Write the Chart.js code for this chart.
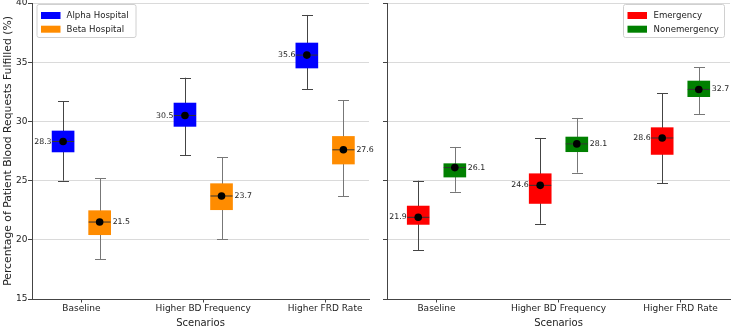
<!DOCTYPE html>
<html>
<head>
<meta charset="utf-8">
<script src="https://cdn.jsdelivr.net/npm/chart.js@4/dist/chart.umd.min.js"></script>
<style>
  html, body { margin: 0; padding: 0; background: #fff; }
  #wrap { position: relative; width: 733px; height: 331px; overflow: hidden; }
  canvas { position: absolute; top: 0; }
</style>
</head>
<body>
<div id="wrap">
  <canvas id="left" width="385" height="331" style="left:0"></canvas>
  <canvas id="right" width="361" height="331" style="left:372px"></canvas>
</div>
<script>
const categories = ['Baseline', 'Higher BD Frequency', 'Higher FRD Rate'];
const yTicks = [15, 20, 25, 30, 35, 40];
const yTitle = 'Percentage of Patient Blood Requests Fulfilled (%)';
const xTitle = 'Scenarios';

// Left panel: hospitals
const alphaLabel = 'Alpha Hospital';
const alphaMean = [28.3, 30.5, 35.6];
const alphaQ1 = [27.42, 29.58, 34.51];
const alphaQ3 = [29.19, 31.55, 36.62];
const alphaLow = [25.0, 27.16, 32.74];
const alphaHigh = [31.72, 33.69, 38.99];

const betaLabel = 'Beta Hospital';
const betaMean = [21.5, 23.7, 27.6];
const betaQ1 = [20.43, 22.54, 26.40];
const betaQ3 = [22.46, 24.74, 28.73];
const betaLow = [18.38, 20.07, 23.67];
const betaHigh = [25.19, 26.99, 31.77];

// Right panel: request type
const emergLabel = 'Emergency';
const emergMean = [21.9, 24.6, 28.6];
const emergQ1 = [21.30, 23.07, 27.21];
const emergQ3 = [22.85, 25.58, 29.47];
const emergLow = [19.14, 21.36, 24.76];
const emergHigh = [24.99, 28.6, 32.37];

const nonemLabel = 'Nonemergency';
const nonemMean = [26.1, 28.1, 32.7];
const nonemQ1 = [25.30, 27.44, 32.09];
const nonemQ3 = [26.43, 28.68, 33.41];
const nonemLow = [24.06, 25.67, 30.63];
const nonemHigh = [27.84, 30.29, 34.59];

Chart.defaults.font.family = "'DejaVu Sans', sans-serif";
Chart.defaults.color = '#222';

function buildDatasets(series) {
  const ds = [];
  series.forEach(s => {
    ds.push({
      type: 'bar', label: s.label, order: 3,
      data: categories.map((c, i) => ({ x: i + s.offset, y: [s.q1[i], s.q3[i]] })),
      backgroundColor: s.color, borderWidth: 0, barThickness: 22, grouped: false
    });
    ds.push({
      type: 'scatter', label: s.label + ' median', order: 2,
      data: categories.map((c, i) => ({ x: i + s.offset, y: s.mean[i] })),
      pointStyle: 'line', pointRadius: 11, borderColor: '#333', borderWidth: 1, pointHoverRadius: 11
    });
    ds.push({
      type: 'scatter', label: s.label + ' mean', order: 1,
      data: categories.map((c, i) => ({ x: i + s.offset, y: s.mean[i] })),
      pointStyle: 'circle', pointRadius: 3.8, backgroundColor: '#000', borderColor: '#000', borderWidth: 0
    });
  });
  return ds;
}

function makeChart(id, series, xMin, xMax, yAxisWidth, showYLabels, padRight, legendBox) {
  const whiskers = {
    id: 'whiskers',
    beforeDatasetsDraw(chart) {
      const { ctx, scales: { x, y } } = chart;
      ctx.save();
      series.forEach(s => {
        ctx.strokeStyle = s.whisker;
        ctx.lineWidth = 1;
        categories.forEach((c, i) => {
          const px = Math.round(x.getPixelForValue(i + s.offset)) + 0.5;
          const yl = y.getPixelForValue(s.low[i]);
          const yh = y.getPixelForValue(s.high[i]);
          ctx.beginPath();
          ctx.moveTo(px, yl); ctx.lineTo(px, yh);
          ctx.moveTo(px - 5.5, Math.round(yl) + 0.5); ctx.lineTo(px + 5.5, Math.round(yl) + 0.5);
          ctx.moveTo(px - 5.5, Math.round(yh) + 0.5); ctx.lineTo(px + 5.5, Math.round(yh) + 0.5);
          ctx.stroke();
        });
      });
      ctx.restore();
    },
    afterDatasetsDraw(chart) {
      const { ctx, scales: { x, y } } = chart;
      ctx.save();
      ctx.font = "7.8px 'DejaVu Sans', sans-serif";
      ctx.fillStyle = '#222';
      ctx.textBaseline = 'middle';
      series.forEach(s => {
        categories.forEach((c, i) => {
          const px = x.getPixelForValue(i + s.offset);
          const py = y.getPixelForValue(s.mean[i]);
          if (s.side === 'left') { ctx.textAlign = 'right'; ctx.fillText(s.mean[i].toFixed(1), px - 11.5, py); }
          else { ctx.textAlign = 'left'; ctx.fillText(s.mean[i].toFixed(1), px + 13, py); }
        });
      });
      ctx.restore();
    },
    afterDraw(chart) {
      const ctx = chart.ctx;
      const b = legendBox;
      ctx.save();
      ctx.fillStyle = 'rgba(255,255,255,0.85)';
      ctx.strokeStyle = '#d0d0d0';
      ctx.lineWidth = 1;
      ctx.beginPath();
      ctx.roundRect(b.x + 0.5, b.y + 0.5, b.w, b.h, 2);
      ctx.fill(); ctx.stroke();
      ctx.font = "8.6px 'DejaVu Sans', sans-serif";
      ctx.textBaseline = 'middle';
      ctx.textAlign = 'left';
      series.forEach((s, k) => {
        const cy = b.y + 11.5 + k * 13.7;
        ctx.fillStyle = s.color;
        ctx.fillRect(b.x + 4.5, cy - 3.5, 19.5, 7);
        ctx.fillStyle = '#222';
        ctx.fillText(s.label, b.x + b.textDx, cy + 0.5);
      });
      ctx.restore();
    }
  };

  return new Chart(document.getElementById(id), {
    type: 'bar',
    data: { datasets: buildDatasets(series) },
    options: {
      responsive: false, animation: false,
      layout: { autoPadding: false, padding: { top: 3, right: padRight, left: 0, bottom: 0 } },
      plugins: { legend: { display: false }, tooltip: { enabled: false } },
      scales: {
        x: {
          type: 'linear', min: xMin, max: xMax, offset: false,
          afterBuildTicks: sc => { sc.ticks = categories.map((c, i) => ({ value: i })); },
          afterFit: sc => { sc.height = 32; sc.paddingLeft = 0; sc.paddingRight = 0; },
          ticks: { callback: v => categories[v], font: { size: 9 }, color: '#222', padding: 1, maxRotation: 0, autoSkip: false },
          grid: { offset: false, drawOnChartArea: false, drawTicks: true, tickLength: 3.5, tickColor: '#444' },
          border: { color: '#444', width: 1 },
          title: { display: true, text: xTitle, font: { size: 10 }, color: '#222', padding: { top: 0, bottom: 1.5 } }
        },
        y: {
          min: 15, max: 40,
          afterBuildTicks: sc => { sc.ticks = yTicks.map(v => ({ value: v })); },
          afterFit: sc => { sc.width = yAxisWidth; sc.paddingTop = 0; sc.paddingBottom = 0; },
          ticks: { font: { size: 9 }, color: showYLabels ? '#222' : 'rgba(0,0,0,0)', padding: 0.5 },
          grid: { offset: false, color: '#dadada', lineWidth: 1, drawTicks: true, tickLength: 4, tickColor: '#444' },
          border: { color: '#444', width: 1 },
          title: { display: showYLabels, text: yTitle, font: { size: 10.8 }, color: '#222', padding: { top: 1.5, bottom: 0 } }
        }
      }
    },
    plugins: [whiskers]
  });
}

makeChart('left', [
  { label: alphaLabel, color: '#0000ff', whisker: '#444', mean: alphaMean, q1: alphaQ1, q3: alphaQ3, low: alphaLow, high: alphaHigh, offset: -0.15, side: 'left' },
  { label: betaLabel, color: '#ff8c00', whisker: '#777', mean: betaMean, q1: betaQ1, q3: betaQ3, low: betaLow, high: betaHigh, offset: 0.15, side: 'right' }
], -0.405, 2.36, 32, true, 16, { x: 36.5, y: 4, w: 99, h: 33, textDx: 30 });

makeChart('right', [
  { label: emergLabel, color: '#ff0000', whisker: '#444', mean: emergMean, q1: emergQ1, q3: emergQ3, low: emergLow, high: emergHigh, offset: -0.15, side: 'left' },
  { label: nonemLabel, color: '#008000', whisker: '#777', mean: nonemMean, q1: nonemQ1, q3: nonemQ3, low: nonemLow, high: nonemHigh, offset: 0.15, side: 'right' }
], -0.406, 2.406, 15, false, 3, { x: 251, y: 4, w: 101, h: 33, textDx: 30.5 });
</script>
</body>
</html>
